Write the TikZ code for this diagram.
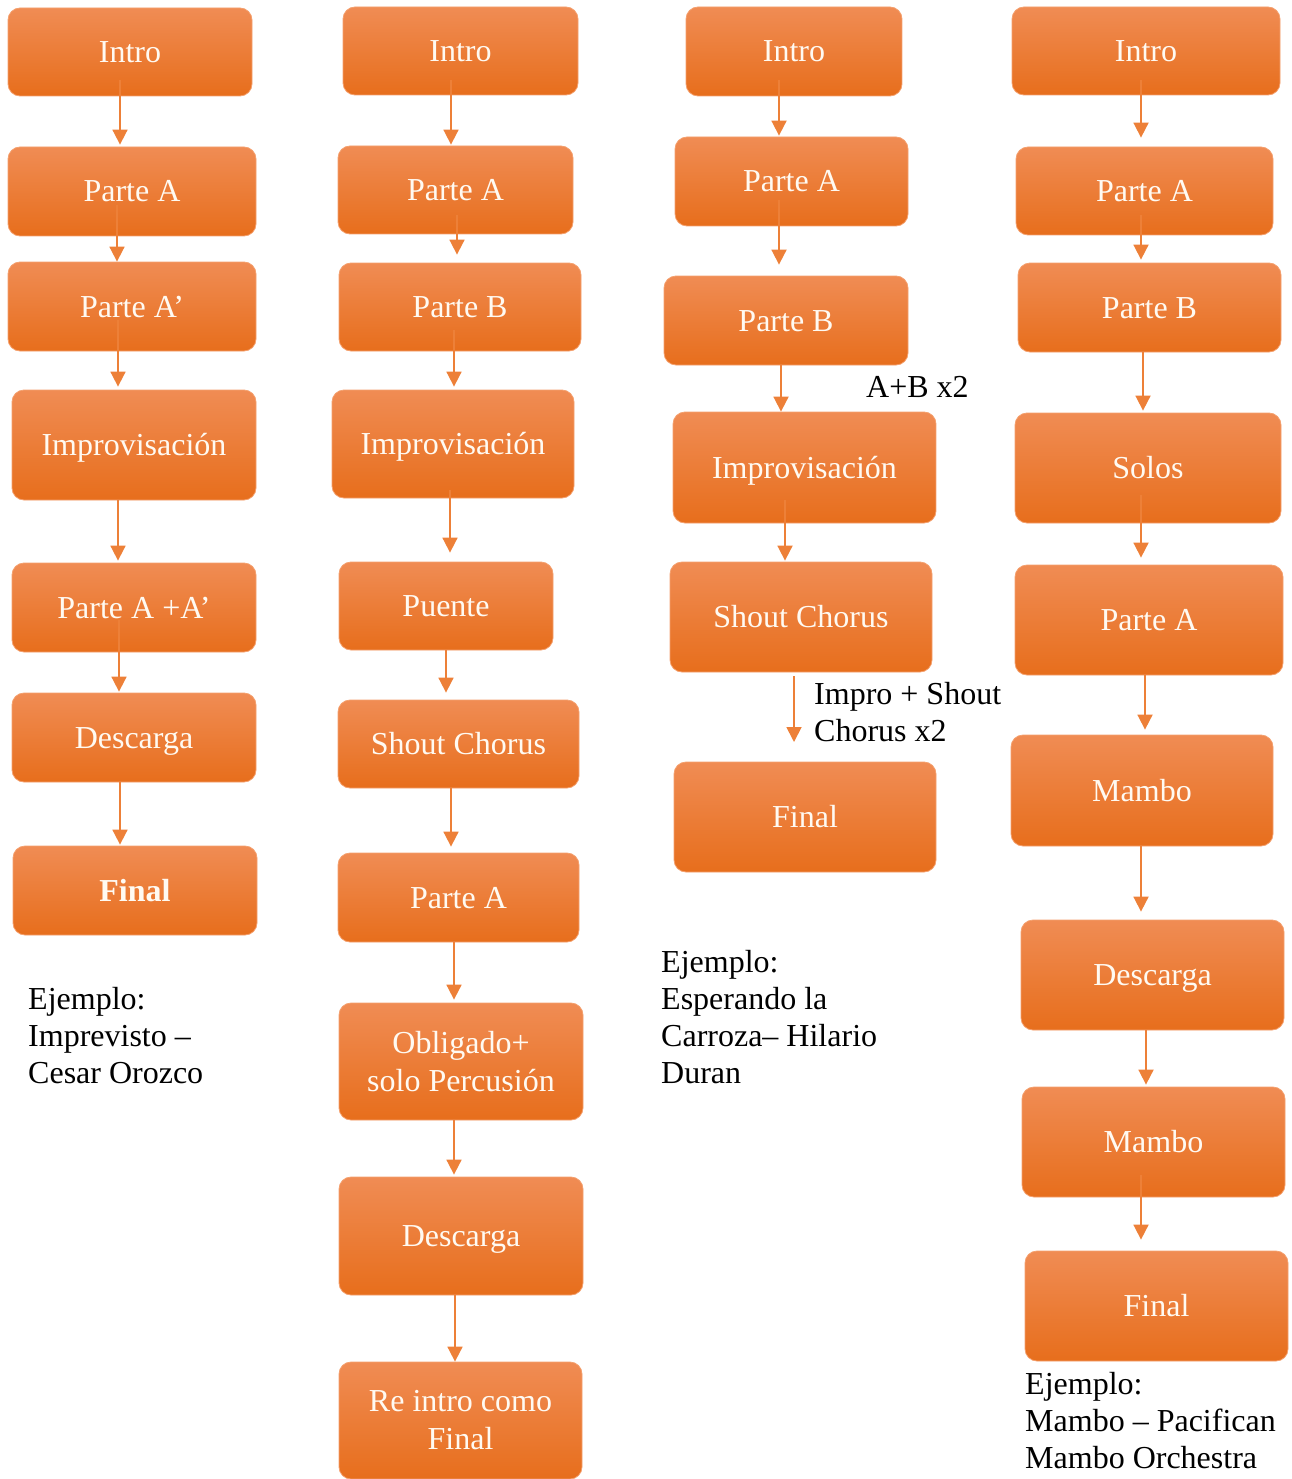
\documentclass[tikz,border=0pt]{standalone}
\usepackage{fontspec}
\setmainfont{Liberation Serif}
\usetikzlibrary{arrows.meta,calc}
\definecolor{orTop}{RGB}{240,140,84}
\definecolor{orMid}{RGB}{243,126,44}
\definecolor{orBot}{RGB}{231,110,28}
\definecolor{orEdge}{RGB}{244,160,110}
\definecolor{arrc}{RGB}{237,128,56}
\definecolor{boxtext}{RGB}{255,250,242}
\tikzset{
  box/.style={rectangle, rounded corners=12pt, draw=orEdge, line width=0.8pt,
    top color=orTop, middle color=orMid, bottom color=orBot,
    inner sep=0pt, text=boxtext,
    font=\fontsize{32}{38}\selectfont},
  oneline/.style={text height=21pt, text depth=0pt},
  twoline/.style={align=center},
  arr/.style={draw=arrc, line width=1.8pt, -{Triangle[width=15pt,length=15pt]}},
  note/.style={inner sep=0pt, align=left, anchor=north west, text=black,
    font=\fontsize{32}{37}\selectfont},
}
\newcommand{\bx}[6]{\node[box, oneline, minimum width=#4pt, minimum height=#5pt] (#1) at (#2,#3) {#6};}
\newcommand{\bxx}[6]{\node[box, twoline, minimum width=#4pt, minimum height=#5pt] (#1) at (#2,#3) {#6};}
\begin{document}
\begin{tikzpicture}[x=1pt,y=-1pt]
\useasboundingbox (0,0) rectangle (1291,1479);
% Column 1
\bx{i1}{130}{52}{244}{88}{Intro}
\bx{a1}{132}{191.5}{248}{89}{Parte A}
\bx{ap1}{132}{306.5}{248}{89}{Parte A’}
\bx{im1}{134}{445}{244}{110}{Improvisación}
\bx{aa1}{134}{607.5}{244}{89}{Parte A +A’}
\bx{d1}{134}{737.5}{244}{89}{Descarga}
\bx{f1}{135}{890.5}{244}{89}{\textbf{Final}}
\draw[arr] ([shift={(-10,-16)}]i1.south) -- ([shift={(-12,-2)}]a1.north);
\draw[arr] ([shift={(-15,-31)}]a1.south) -- ([shift={(-15,0)}]ap1.north);
\draw[arr] ([shift={(-14,-31)}]ap1.south) -- ([shift={(-16,-3)}]im1.north);
\draw[arr] ([shift={(-16,0)}]im1.south) -- ([shift={(-16,-2)}]aa1.north);
\draw[arr] ([shift={(-15,-32)}]aa1.south) -- ([shift={(-15,-1)}]d1.north);
\draw[arr] ([shift={(-14,0)}]d1.south) -- ([shift={(-15,-1)}]f1.north);
\node[note] (e1) at (28,987) {Ejemplo:\\Imprevisto –\\Cesar Orozco};
% Column 2
\bx{i2}{460.5}{51}{235}{88}{Intro}
\bx{a2}{455.5}{190}{235}{88}{Parte A}
\bx{b2}{460}{307}{242}{88}{Parte B}
\bx{im2}{453}{444}{242}{108}{Improvisación}
\bx{p2}{446}{606}{214}{88}{Puente}
\bx{s2}{458.5}{744}{241}{88}{Shout Chorus}
\bx{a2b}{458.5}{897.5}{241}{89}{Parte A}
\bxx{o2}{461}{1061.5}{244}{117}{Obligado+\\solo Percusión}
\bx{d2}{461}{1236}{244}{118}{Descarga}
\bxx{r2}{460.5}{1420.5}{243}{117}{Re intro como\\Final}
\draw[arr] ([shift={(-9.5,-15)}]i2.south) -- ([shift={(-4.5,-1)}]a2.north);
\draw[arr] ([shift={(1.5,-19)}]a2.south) -- ([shift={(-3,-8)}]b2.north);
\draw[arr] ([shift={(-6,-21)}]b2.south) -- ([shift={(1,-3)}]im2.north);
\draw[arr] ([shift={(-3,-8)}]im2.south) -- ([shift={(4,-9)}]p2.north);
\draw[arr] ([shift={(0,0)}]p2.south) -- ([shift={(-12.5,-7)}]s2.north);
\draw[arr] ([shift={(-7.5,0)}]s2.south) -- ([shift={(-7.5,-6)}]a2b.north);
\draw[arr] ([shift={(-4.5,0)}]a2b.south) -- ([shift={(-7,-3)}]o2.north);
\draw[arr] ([shift={(-7,0)}]o2.south) -- ([shift={(-7,-2)}]d2.north);
\draw[arr] ([shift={(-6,0)}]d2.south) -- ([shift={(-5.5,0)}]r2.north);
% Column 3
\bx{i3}{794}{51.5}{216}{89}{Intro}
\bx{a3}{791.5}{181.5}{233}{89}{Parte A}
\bx{b3}{786}{320.5}{244}{89}{Parte B}
\bx{im3}{804.5}{467.5}{263}{111}{Improvisación}
\bx{s3}{801}{617}{262}{110}{Shout Chorus}
\bx{f3}{805}{817}{262}{110}{Final}
\coordinate (c3) at (794,742);
\draw[arr] ([shift={(-15,-16)}]i3.south) -- ([shift={(-12.5,-1)}]a3.north);
\draw[arr] ([shift={(-12.5,-26)}]a3.south) -- ([shift={(-7,-11)}]b3.north);
\draw[arr] ([shift={(-5,0)}]b3.south) -- ([shift={(-23.5,0)}]im3.north);
\draw[arr] ([shift={(-19.5,-23)}]im3.south) -- ([shift={(-16,-1)}]s3.north);
\draw[arr] ([shift={(-7,4)}]s3.south) -- (c3);
\node[note, anchor=west] (l1) at (866,387) {A+B x2};
\node[note] (l2) at (814,682) {Impro + Shout\\Chorus x2};
\node[note] (e3) at (661,950) {Ejemplo:\\Esperando la\\Carroza– Hilario\\Duran};
% Column 4
\bx{i4}{1146}{51}{268}{88}{Intro}
\bx{a4}{1144.5}{191}{257}{88}{Parte A}
\bx{b4}{1149.5}{307.5}{263}{89}{Parte B}
\bx{so4}{1148}{468}{266}{110}{Solos}
\bx{a4b}{1149}{620}{268}{110}{Parte A}
\bx{m4}{1142}{790.5}{262}{111}{Mambo}
\bx{d4}{1152.5}{975}{263}{110}{Descarga}
\bx{m4b}{1153.5}{1142}{263}{110}{Mambo}
\bx{f4}{1156.5}{1306}{263}{110}{Final}
\draw[arr] ([shift={(-5,-15)}]i4.south) -- ([shift={(-3.5,-9)}]a4.north);
\draw[arr] ([shift={(-3.5,-20)}]a4.south) -- ([shift={(-8.5,-3)}]b4.north);
\draw[arr] ([shift={(-6.5,0)}]b4.south) -- ([shift={(-5,-2)}]so4.north);
\draw[arr] ([shift={(-7,-28)}]so4.south) -- ([shift={(-8,-7)}]a4b.north);
\draw[arr] ([shift={(-4,0)}]a4b.south) -- ([shift={(3,-5)}]m4.north);
\draw[arr] ([shift={(-1,0)}]m4.south) -- ([shift={(-11.5,-8)}]d4.north);
\draw[arr] ([shift={(-6.5,0)}]d4.south) -- ([shift={(-7.5,-2)}]m4b.north);
\draw[arr] ([shift={(-12.5,-22)}]m4b.south) -- ([shift={(-15.5,-11)}]f4.north);
\node[note] (e4) at (1025,1372) {Ejemplo:\\Mambo – Pacifican\\Mambo Orchestra};
\end{tikzpicture}
\end{document}
